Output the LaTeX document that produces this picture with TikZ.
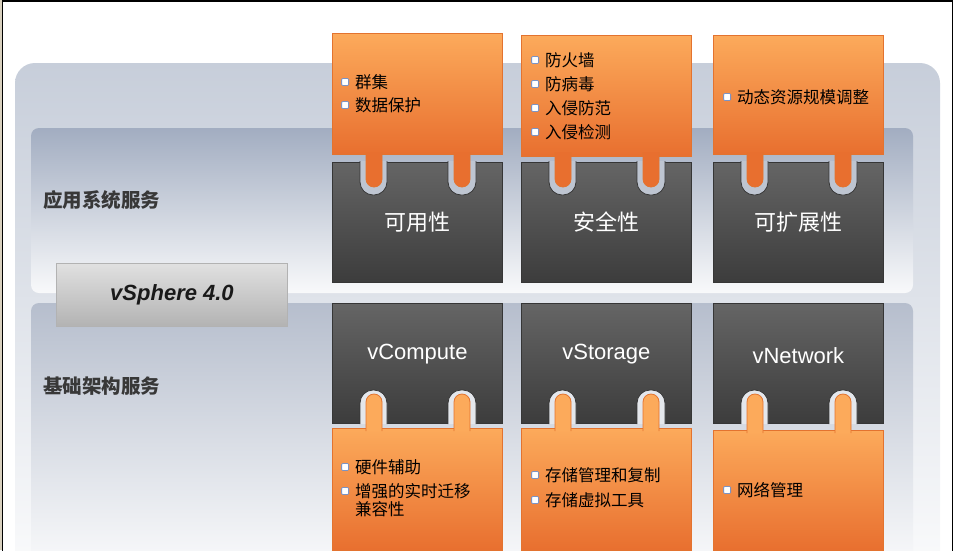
\documentclass[tikz,border=0pt]{standalone}
\usepackage{fontspec}
\setmainfont{Liberation Sans}
\newfontfamily\cjk{Noto Sans CJK SC}
\usetikzlibrary{positioning}
\definecolor{orangetop}{HTML}{FCAA5B}
\definecolor{orangebot}{HTML}{E86F2F}
\definecolor{orangeedge}{HTML}{E3732F}
\definecolor{darktop}{HTML}{656565}
\definecolor{darkbot}{HTML}{3C3C3C}
\definecolor{darkedge}{HTML}{363636}
\definecolor{panelgray}{HTML}{C7CEDA}
\definecolor{bandtop}{HTML}{A2ADC1}
\definecolor{bandlow}{HTML}{B6BECD}
\definecolor{notchhigh}{HTML}{BEC5D1}
\definecolor{notchlow}{HTML}{E4E7EC}
\definecolor{bulletedge}{HTML}{7C93C4}
\definecolor{labelgray}{HTML}{383838}
\tikzstyle{orangebox} = [rectangle, draw=orangeedge, line width=0.8pt, top color=orangetop, bottom color=orangebot, minimum width=170pt, inner sep=0pt, anchor=north west]
\tikzstyle{darkbox} = [rectangle, draw=darkedge, line width=0.8pt, top color=darktop, bottom color=darkbot, minimum width=170pt, minimum height=120pt, inner sep=0pt, anchor=north west, text=white, font=\cjk\fontsize{22}{26}\selectfont]
\tikzstyle{darklabel} = [text=white, font=\fontsize{22}{26}\selectfont]
\tikzstyle{notch} = [draw=darkedge, line width=0.8pt, rounded corners=13pt]
\tikzstyle{tab} = [draw=orangeedge, line width=0.8pt, rounded corners=8pt]
\tikzstyle{bullet} = [rectangle, draw=bulletedge, fill=white, line width=0.8pt, minimum size=7pt, inner sep=0pt, rounded corners=1pt]
\tikzstyle{item} = [anchor=west, inner sep=0pt, font=\cjk\fontsize{16.5}{19}\selectfont, label={[bullet, xshift=-6pt]left:{}}]
\tikzstyle{section} = [anchor=west, inner sep=0pt, text=labelgray, font=\cjk\bfseries\fontsize{19.5}{23}\selectfont]

\begin{document}
\begin{tikzpicture}[x=1pt, y=-1pt]
    \useasboundingbox (0,0) rectangle (955,550);
    \clip (0,0) rectangle (955,550);
    % frame
    \fill[fill={rgb,255:red,216;green,208;blue,190}] (0,0) rectangle (1.6,550);
    \draw[line width=1.5pt] (2.4,551) -- (2.4,1.2) -- (952.6,1.2) -- (952.6,551);

    % panels
    \shade[top color=panelgray, middle color=panelgray!35, bottom color=white, rounded corners=20pt] (15,63) rectangle (940,620);
    \shade[top color=bandtop, bottom color=white!93!bandtop, rounded corners=8pt] (31,128) rectangle (913,293);
    \shade[top color=bandlow, middle color=white!92!bandlow, bottom color=white, rounded corners=8pt] (31,303) rectangle (913,590);

    \node (appsvc) [section] at (43,200) {应用系统服务};
    \node (infrasvc) [section] at (43,386) {基础架构服务};
    \node (vsphere) [rectangle, draw=black!30, line width=1.2pt, top color=black!12, bottom color=black!30, minimum width=231pt, minimum height=63pt, font=\bfseries\itshape\fontsize{22}{26}\selectfont, text=black!90] at (172,295) {vSphere 4.0};

    % application services
    \node (avail) [darkbox] at (332,162) {可用性};
    \node (secure) [darkbox] at (521,162) {安全性};
    \node (scale) [darkbox] at (713,162) {可扩展性};
    \filldraw[notch, fill=notchhigh] (360,161) -- (360,195) -- (387,195) -- (387,161) (448,161) -- (448,195) -- (476,195) -- (476,161);
    \filldraw[notch, fill=notchhigh] (549,161) -- (549,195) -- (576,195) -- (576,161) (637,161) -- (637,195) -- (665,195) -- (665,161);
    \filldraw[notch, fill=notchhigh] (741,161) -- (741,195) -- (768,195) -- (768,161) (829,161) -- (829,195) -- (857,195) -- (857,161);
    \node (availnote) [orangebox, minimum height=121pt] at (332,33) {};
    \node (securenote) [orangebox, minimum height=121pt] at (521,35) {};
    \node (scalenote) [orangebox, minimum height=119pt] at (713,35) {};
    \filldraw[tab, fill=orangebot] (366,152) -- (366,187) -- (382,187) -- (382,152) (454,152) -- (454,187) -- (470,187) -- (470,152);
    \filldraw[tab, fill=orangebot] (555,152) -- (555,187) -- (571,187) -- (571,152) (643,152) -- (643,187) -- (659,187) -- (659,152);
    \filldraw[tab, fill=orangebot] (747,152) -- (747,187) -- (763,187) -- (763,152) (835,152) -- (835,187) -- (851,187) -- (851,152);

    \node (cluster) [item] at (355,82) {群集};
    \node (dataprot) [item] at (355,105) {数据保护};
    \node (firewall) [item] at (545,60) {防火墙};
    \node (antivirus) [item] at (545,84) {防病毒};
    \node (intprev) [item] at (545,108) {入侵防范};
    \node (intdet) [item] at (545,132) {入侵检测};
    \node (drs) [item] at (737,97) {动态资源规模调整};

    % infrastructure services
    \node (compute) [darkbox] at (332,303) {};
    \node (storage) [darkbox] at (521,303) {};
    \node (network) [darkbox] at (713,303) {};
    \node (computelbl) [darklabel] at ([yshift=-51pt]compute.north) {vCompute};
    \node (storagelbl) [darklabel] at ([yshift=-51pt]storage.north) {vStorage};
    \node (networklbl) [darklabel] at ([yshift=-53pt]network.north) {vNetwork};
    \filldraw[notch, fill=notchlow] (360,424) -- (360,390) -- (387,390) -- (387,424) (448,424) -- (448,390) -- (476,390) -- (476,424);
    \filldraw[notch, fill=notchlow] (549,424) -- (549,390) -- (576,390) -- (576,424) (637,424) -- (637,390) -- (665,390) -- (665,424);
    \filldraw[notch, fill=notchlow] (741,424) -- (741,390) -- (768,390) -- (768,424) (829,424) -- (829,390) -- (857,390) -- (857,424);
    \node (computenote) [orangebox, minimum height=122pt] at (332,428) {};
    \node (storagenote) [orangebox, minimum height=122pt] at (521,428) {};
    \node (networknote) [orangebox, minimum height=120pt] at (713,430) {};
    \filldraw[tab, fill=orangetop] (366,431) -- (366,394) -- (382,394) -- (382,431) (454,431) -- (454,394) -- (470,394) -- (470,431);
    \filldraw[tab, fill=orangetop] (555,431) -- (555,394) -- (571,394) -- (571,431) (643,431) -- (643,394) -- (659,394) -- (659,431);
    \filldraw[tab, fill=orangetop] (747,433) -- (747,394) -- (763,394) -- (763,433) (835,433) -- (835,394) -- (851,394) -- (851,433);

    \node (hwassist) [item] at (355,467) {硬件辅助};
    \node (evmotion) [item] at (355,491) {增强的实时迁移};
    \node (compat) [anchor=north west, inner sep=0pt, font=\cjk\fontsize{16.5}{19}\selectfont] at ([yshift=-2pt]evmotion.south west) {兼容性};
    \node (storemgmt) [item] at (545,475) {存储管理和复制};
    \node (storevirt) [item] at (545,500) {存储虚拟工具};
    \node (netmgmt) [item] at (737,490) {网络管理};
\end{tikzpicture}
\end{document}
